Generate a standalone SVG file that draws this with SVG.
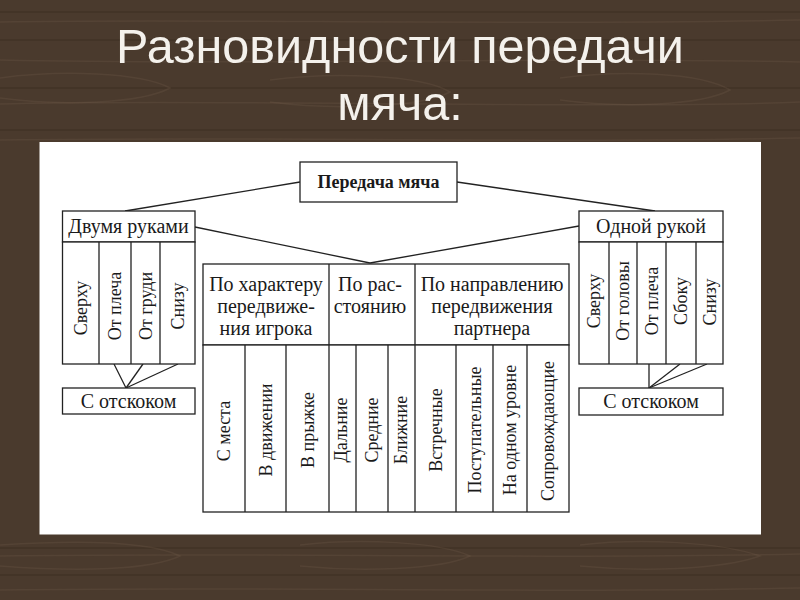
<svg xmlns="http://www.w3.org/2000/svg" width="800" height="600" viewBox="0 0 800 600">
<defs>
<style>
.box{fill:#fff;stroke:#222;stroke-width:1.3}
.ln{fill:none;stroke:#222;stroke-width:1.3}
.t{font-family:"Liberation Serif","Times New Roman",serif;font-size:20px;fill:#1a1a1a}
.v{font-family:"Liberation Serif","Times New Roman",serif;font-size:18px;fill:#1a1a1a;text-anchor:middle;dominant-baseline:central}
.c{text-anchor:middle}
.b{font-weight:bold;font-size:18px}
.title{font-family:"Liberation Sans",Arial,sans-serif;font-size:48.5px;fill:#f4f1ec;text-anchor:middle}
.grain{fill:none;stroke:#7a6654;stroke-width:1.5;opacity:0.22}
.grain2{fill:none;stroke:#2e2219;stroke-width:2;opacity:0.25}
</style>
</defs>
<g id="background">
<rect x="0" y="0" width="800" height="600" fill="#4a3a2d"/>
<path class="grain2" d="M0 12 H800 M0 40 H800 M0 88 H800 M0 130 H800 M0 548 H800 M0 575 H800"/>
<path class="grain" d="M0 22 C200 18 500 26 800 20 M0 60 C250 66 550 56 800 62 M0 104 C200 98 600 110 800 102 M0 140 C300 136 500 144 800 138 M0 556 C250 552 550 560 800 554 M0 590 C300 586 500 594 800 588"/>
<path class="grain" d="M0 78 C60 70 140 72 170 88 C140 104 60 106 0 98 M270 80 C330 72 420 74 450 92 C420 108 330 110 270 102 M560 78 C620 70 700 72 730 90 C700 106 620 108 560 100"/>
<path class="grain" d="M0 545 C80 540 150 542 180 556 C150 570 80 572 0 566 M300 545 C360 538 440 542 470 556 C440 570 360 572 300 566 M580 545 C640 538 720 542 760 556 C720 570 640 572 580 566"/>
</g>
<g id="title">
<text class="title" x="400" y="63">Разновидности передачи</text>
<text class="title" x="400" y="120">мяча:</text>
</g>
<rect id="panel" x="39.5" y="142" width="721.5" height="392.5" fill="#fff"/>
<g id="connectors">
<line class="ln" x1="300" y1="182" x2="125" y2="211"/>
<line class="ln" x1="457" y1="182" x2="655" y2="211"/>
<line class="ln" x1="195" y1="227" x2="370" y2="263"/>
<line class="ln" x1="579" y1="226" x2="370" y2="263"/>
<line class="ln" x1="114" y1="364" x2="126" y2="388"/>
<line class="ln" x1="143" y1="364" x2="126" y2="388"/>
<line class="ln" x1="178" y1="364" x2="126" y2="388"/>
<line class="ln" x1="649" y1="364" x2="649" y2="388"/>
<line class="ln" x1="680" y1="364" x2="649" y2="388"/>
<line class="ln" x1="707" y1="364" x2="649" y2="388"/>
</g>
<g id="root">
<rect class="box" x="300" y="162" width="157" height="40"/>
<text class="t b c" x="378.5" y="188">Передача мяча</text>
</g>
<g id="two-hands">
<rect class="box" x="62.5" y="211" width="132.5" height="31"/>
<text class="t c" x="128.5" y="233">Двумя руками</text>
<rect class="box" x="62.5" y="242" width="132.5" height="122"/>
<path class="ln" d="M99 242 V364 M131 242 V364 M160 242 V364"/>
<text class="v" transform="translate(81,308) rotate(-90)">Сверху</text>
<text class="v" transform="translate(115,306) rotate(-90)">От плеча</text>
<text class="v" transform="translate(145.5,306) rotate(-90)">От груди</text>
<text class="v" transform="translate(177.5,306) rotate(-90)">Снизу</text>
</g>
<g id="two-hands-bounce">
<rect class="box" x="62.5" y="388" width="132.5" height="26"/>
<text class="t c" x="128.5" y="408">С отскоком</text>
</g>
<g id="one-hand">
<rect class="box" x="579" y="211" width="144" height="31"/>
<text class="t c" x="651" y="233">Одной рукой</text>
<rect class="box" x="579" y="242" width="144" height="122"/>
<path class="ln" d="M609 242 V364 M637 242 V364 M666 242 V364 M696 242 V364"/>
<text class="v" transform="translate(594,301) rotate(-90)">Сверху</text>
<text class="v" transform="translate(623,301) rotate(-90)">От головы</text>
<text class="v" transform="translate(651.5,301) rotate(-90)">От плеча</text>
<text class="v" transform="translate(681,301) rotate(-90)">Сбоку</text>
<text class="v" transform="translate(709.5,302) rotate(-90)">Снизу</text>
</g>
<g id="one-hand-bounce">
<rect class="box" x="579" y="388" width="144" height="27"/>
<text class="t c" x="651" y="408">С отскоком</text>
</g>
<g id="criteria">
<rect class="box" x="203" y="264" width="366" height="81"/>
<path class="ln" d="M329 264 V345 M415 264 V345"/>
<text class="t c" x="266" y="291">По характеру</text>
<text class="t c" x="266" y="313">передвиже-</text>
<text class="t c" x="266" y="335">ния игрока</text>
<text class="t c" x="370" y="291">По рас-</text>
<text class="t c" x="370" y="313">стоянию</text>
<text class="t c" x="492" y="291">По направлению</text>
<text class="t c" x="492" y="313">передвижения</text>
<text class="t c" x="492" y="335">партнера</text>
</g>
<g id="subtypes">
<rect class="box" x="203" y="345" width="366" height="167"/>
<path class="ln" d="M245 345 V512 M286 345 V512 M329 345 V512 M356 345 V512 M388 345 V512 M415 345 V512 M456 345 V512 M493 345 V512 M527 345 V512"/>
<text class="v" transform="translate(224,431) rotate(-90)">С места</text>
<text class="v" transform="translate(265.5,430) rotate(-90)">В движении</text>
<text class="v" transform="translate(307.5,430) rotate(-90)">В прыжке</text>
<text class="v" transform="translate(341,430) rotate(-90)">Дальние</text>
<text class="v" transform="translate(372,430) rotate(-90)">Средние</text>
<text class="v" transform="translate(401,430) rotate(-90)">Ближние</text>
<text class="v" transform="translate(435.5,430) rotate(-90)">Встречные</text>
<text class="v" transform="translate(474.5,430) rotate(-90)">Поступательные</text>
<text class="v" transform="translate(510,430) rotate(-90)">На одном уровне</text>
<text class="v" transform="translate(548,431) rotate(-90)">Сопровождающие</text>
</g>
</svg>
